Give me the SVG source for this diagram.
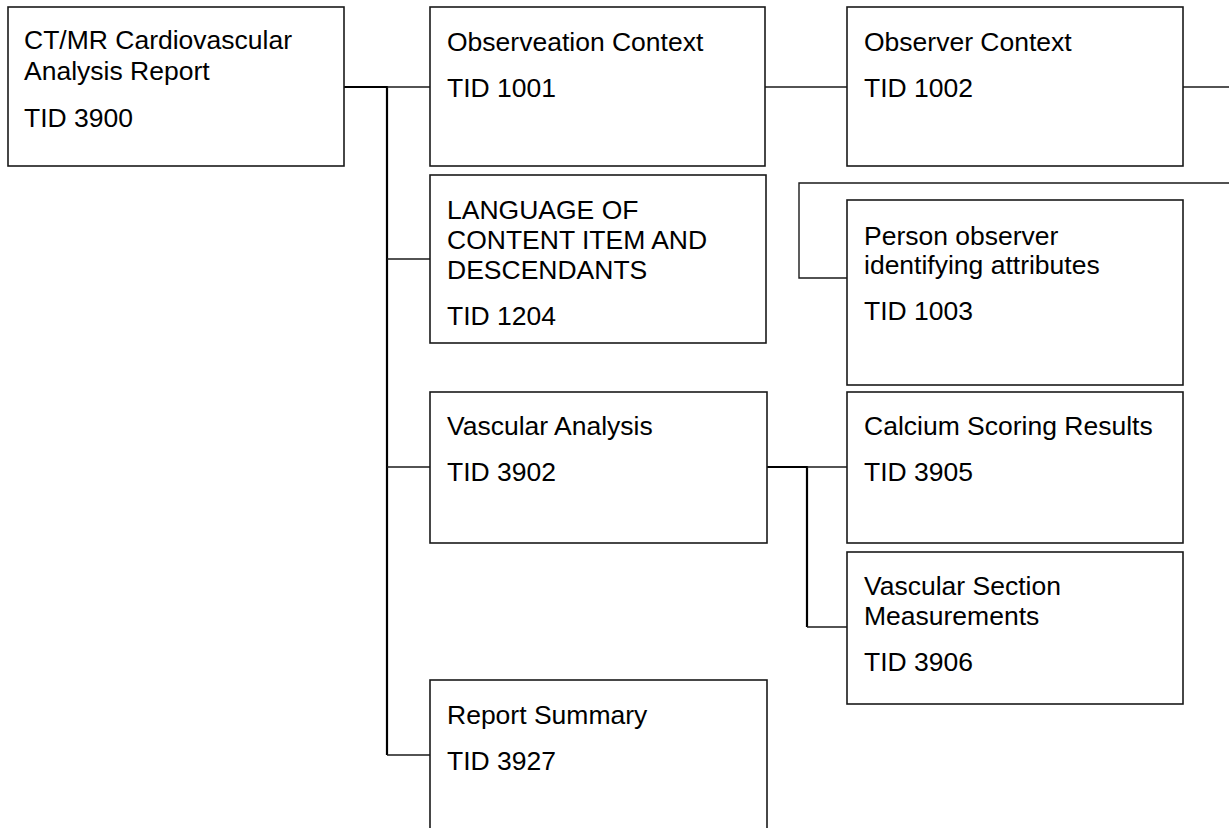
<svg xmlns="http://www.w3.org/2000/svg" width="1229" height="828" viewBox="0 0 1229 828">
<style>
.box{fill:#fff;stroke:#1a1a1a;stroke-width:1.6}
.t{font-family:"Liberation Sans",Arial,sans-serif;font-size:26.5px;fill:#000}
.c{fill:none;stroke:#1a1a1a;stroke-width:1.4}
.ct{fill:none;stroke:#000;stroke-width:2.2}
</style>
<rect width="1229" height="828" fill="#fff"/>
<g id="connectors">
<path class="ct" d="M344 87H387V755"/>
<path class="c" d="M387 87H430"/>
<path class="c" d="M387 259H430"/>
<path class="c" d="M387 467H430"/>
<path class="c" d="M387 755H430"/>
<path class="c" d="M765 87H847"/>
<path class="c" d="M1183 87H1229"/>
<path class="c" d="M1229 183H799V278H847"/>
<path class="ct" d="M767 467H807V627"/>
<path class="c" d="M807 467H847"/>
<path class="c" d="M807 627H847"/>
</g>
<g id="root">
<rect class="box" x="8" y="7" width="336" height="159"/>
<text class="t" x="24" y="49">CT/MR Cardiovascular</text>
<text class="t" x="24" y="80">Analysis Report</text>
<text class="t" x="24" y="127">TID 3900</text>
</g>
<g id="observation-context">
<rect class="box" x="430" y="7" width="335" height="159"/>
<text class="t" x="447" y="51">Observeation Context</text>
<text class="t" x="447" y="97">TID 1001</text>
</g>
<g id="observer-context">
<rect class="box" x="847" y="7" width="336" height="159"/>
<text class="t" x="864" y="51">Observer Context</text>
<text class="t" x="864" y="97">TID 1002</text>
</g>
<g id="language">
<rect class="box" x="430" y="175" width="336" height="168"/>
<text class="t" x="447" y="219">LANGUAGE OF</text>
<text class="t" x="447" y="249">CONTENT ITEM AND</text>
<text class="t" x="447" y="279">DESCENDANTS</text>
<text class="t" x="447" y="325">TID 1204</text>
</g>
<g id="person-observer">
<rect class="box" x="847" y="200" width="336" height="185"/>
<text class="t" x="864" y="245">Person observer</text>
<text class="t" x="864" y="274">identifying attributes</text>
<text class="t" x="864" y="320">TID 1003</text>
</g>
<g id="vascular-analysis">
<rect class="box" x="430" y="392" width="337" height="151"/>
<text class="t" x="447" y="435">Vascular Analysis</text>
<text class="t" x="447" y="481">TID 3902</text>
</g>
<g id="calcium-scoring">
<rect class="box" x="847" y="392" width="336" height="151"/>
<text class="t" x="864" y="435">Calcium Scoring Results</text>
<text class="t" x="864" y="481">TID 3905</text>
</g>
<g id="vascular-section">
<rect class="box" x="847" y="552" width="336" height="152"/>
<text class="t" x="864" y="595">Vascular Section</text>
<text class="t" x="864" y="625">Measurements</text>
<text class="t" x="864" y="671">TID 3906</text>
</g>
<g id="report-summary">
<rect class="box" x="430" y="680" width="337" height="200"/>
<text class="t" x="447" y="724">Report Summary</text>
<text class="t" x="447" y="770">TID 3927</text>
</g>
</svg>
